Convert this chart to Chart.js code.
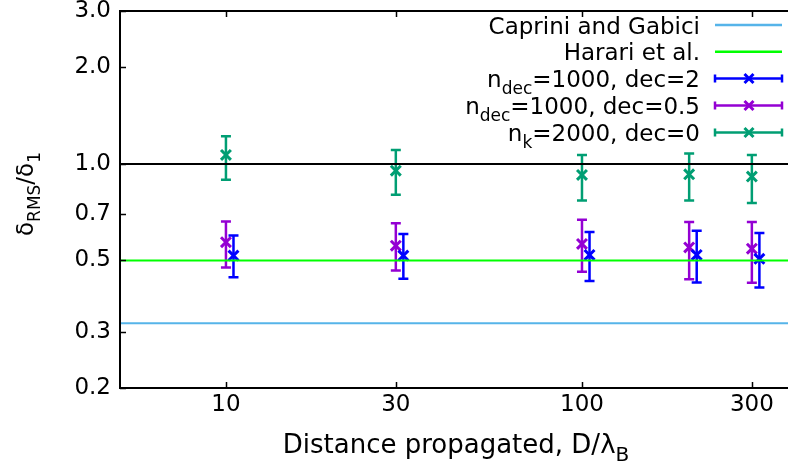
<!DOCTYPE html>
<html><head><meta charset="utf-8">
<script src="https://cdn.jsdelivr.net/npm/chart.js@4/dist/chart.umd.min.js"></script>
<style>html,body{margin:0;padding:0;background:#fff;overflow:hidden}#wrap{width:788px;height:467px;position:relative}</style>
</head><body><div id="wrap"><canvas id="c"></canvas></div>
<script>
// ---- data ----
const xPositions = [10, 30, 100, 200, 300];
const xPositionsDec2 = [10.5, 31.5, 105, 210, 315];

const dec2Y    = [0.518, 0.518, 0.520, 0.520, 0.506];
const dec2Low  = [0.443, 0.438, 0.431, 0.427, 0.412];
const dec2High = [0.598, 0.605, 0.613, 0.619, 0.609];

const dec05Y    = [0.570, 0.556, 0.563, 0.549, 0.544];
const dec05Low  = [0.475, 0.465, 0.461, 0.437, 0.426];
const dec05High = [0.661, 0.653, 0.670, 0.659, 0.659];

const dec0Y    = [1.067, 0.953, 0.924, 0.928, 0.913];
const dec0Low  = [0.892, 0.802, 0.769, 0.769, 0.756];
const dec0High = [1.219, 1.106, 1.067, 1.077, 1.067];

const capriniValue = 0.3183;
const harariValue = 0.5;
const unityValue = 1.0;

const xTicks = [10, 30, 100, 300];
const yTicks = [0.2, 0.3, 0.5, 0.7, 1.0, 2.0, 3.0];
const xRange = [5.04, 379];
const yRange = [0.2, 3.0];

const legendLabels = ['Caprini and Gabici', 'Harari et al.', 'n_{dec}=1000, dec=2', 'n_{dec}=1000, dec=0.5', 'n_{k}=2000, dec=0'];
const xTitle = 'Distance propagated, D/λ_{B}';
const yTitle = 'δ_{RMS}/δ_{1}';

const colors = ['#56b4e9', '#00ff00', '#0000ff', '#9400d3', '#009e73'];
const FONT = '"DejaVu Sans", sans-serif';
const TICK_FS = 23, LEG_FS = 23, XT_FS = 26, YT_FS = 23;

// ---- helpers ----
function parseRich(s){
  const parts=[]; const re=/_\{([^}]*)\}/g; let last=0, m;
  while((m=re.exec(s))){ if(m.index>last) parts.push({t:s.slice(last,m.index),sub:false}); parts.push({t:m[1],sub:true}); last=re.lastIndex; }
  if(last<s.length) parts.push({t:s.slice(last),sub:false});
  return parts;
}
function drawRich(ctx, s, x, y, align, size){
  const parts=parseRich(s); const sub=Math.round(size*0.75);
  let w=0;
  parts.forEach(p=>{ ctx.font=(p.sub?sub:size)+'px '+FONT; p.w=ctx.measureText(p.t).width; w+=p.w; });
  let cx = align==='right' ? x-w : (align==='center' ? x-w/2 : x);
  ctx.textAlign='left'; ctx.textBaseline='alphabetic'; ctx.fillStyle='#000';
  parts.forEach(p=>{ ctx.font=(p.sub?sub:size)+'px '+FONT; ctx.fillText(p.t, cx, p.sub ? y+size*0.3 : y); cx+=p.w; });
}
function drawX(ctx, x, y, r){
  ctx.beginPath(); ctx.moveTo(x-r,y-r); ctx.lineTo(x+r,y+r); ctx.moveTo(x-r,y+r); ctx.lineTo(x+r,y-r); ctx.stroke();
}

const errorSets = {
  3: {xs: xPositionsDec2, lo: dec2Low, hi: dec2High},
  4: {xs: xPositions, lo: dec05Low, hi: dec05High},
  5: {xs: xPositions, lo: dec0Low, hi: dec0High}
};

const errorBarPlugin = {
  id: 'errbars',
  beforeDatasetDraw(chart, args){
    const e = errorSets[args.index]; if(!e) return;
    const ctx = chart.ctx, xs = chart.scales.x, ys = chart.scales.y;
    ctx.save();
    ctx.strokeStyle = chart.data.datasets[args.index].borderColor;
    ctx.lineWidth = 2.5; ctx.lineCap='butt';
    e.xs.forEach((xv,i)=>{
      const px = xs.getPixelForValue(xv), pl = ys.getPixelForValue(e.lo[i]), ph = ys.getPixelForValue(e.hi[i]);
      ctx.beginPath();
      ctx.moveTo(px, pl); ctx.lineTo(px, ph);
      ctx.moveTo(px-5, pl); ctx.lineTo(px+5, pl);
      ctx.moveTo(px-5, ph); ctx.lineTo(px+5, ph);
      ctx.stroke();
    });
    ctx.restore();
  }
};

const framePlugin = {
  id: 'frame',
  afterDraw(chart){
    const ctx = chart.ctx, a = chart.chartArea, xs = chart.scales.x, ys = chart.scales.y;
    ctx.save();
    ctx.strokeStyle = '#000'; ctx.lineWidth = 2;
    ctx.beginPath();
    ctx.moveTo(a.right+2, a.top); ctx.lineTo(a.left, a.top); ctx.lineTo(a.left, a.bottom); ctx.lineTo(a.right+2, a.bottom);
    ctx.stroke();
    ctx.lineWidth = 1.5;
    ctx.beginPath();
    xTicks.forEach(v=>{ const px=Math.round(xs.getPixelForValue(v))+0.5;
      ctx.moveTo(px, a.bottom); ctx.lineTo(px, a.bottom-6);
      ctx.moveTo(px, a.top); ctx.lineTo(px, a.top+6); });
    yTicks.forEach(v=>{ const py=Math.round(ys.getPixelForValue(v))+0.5;
      ctx.moveTo(a.left, py); ctx.lineTo(a.left+6, py); });
    ctx.stroke();

    // legend
    const rowY = [25, 51.7, 78.5, 105.5, 132.5];
    const textRight = 700, l0 = 715, l1 = 782, lm = 749;
    legendLabels.forEach((lab, i)=>{
      const y = rowY[i];
      drawRich(ctx, lab, textRight, y + 8.5, 'right', LEG_FS);
      ctx.strokeStyle = colors[i]; ctx.lineWidth = 2.5;
      ctx.beginPath(); ctx.moveTo(l0, y); ctx.lineTo(l1, y);
      if(i >= 2){ ctx.moveTo(l0, y-4); ctx.lineTo(l0, y+4); ctx.moveTo(l1, y-4); ctx.lineTo(l1, y+4); }
      ctx.stroke();
      if(i >= 2){ ctx.lineWidth = 3; drawX(ctx, lm, y, 4.5); }
    });

    // axis titles
    drawRich(ctx, xTitle, 456, 453, 'center', XT_FS);
    ctx.translate(25, 194); ctx.rotate(-Math.PI/2);
    drawRich(ctx, yTitle, 0, 8, 'center', YT_FS);
    ctx.restore();
  }
};

const lineDS = (v, color) => ({
  type: 'line', data: [{x: xRange[0], y: v}, {x: xRange[1], y: v}],
  borderColor: color, borderWidth: 2, pointRadius: 0, fill: false
});
const ptsDS = (xs, ys, color) => ({
  type: 'scatter', data: xs.map((x,i)=>({x, y: ys[i]})),
  borderColor: color, backgroundColor: color, pointStyle: 'crossRot',
  pointRadius: 7, pointHoverRadius: 7, pointBorderWidth: 3, showLine: false
});

new Chart(document.getElementById('c'), {
  type: 'scatter',
  data: { datasets: [
    lineDS(capriniValue, colors[0]),
    lineDS(harariValue, colors[1]),
    lineDS(unityValue, '#000'),
    ptsDS(xPositionsDec2, dec2Y, colors[2]),
    ptsDS(xPositions, dec05Y, colors[3]),
    ptsDS(xPositions, dec0Y, colors[4])
  ]},
  options: {
    responsive: true, maintainAspectRatio: false, animation: false, devicePixelRatio: 1,
    layout: { autoPadding: false, padding: { top: 11, right: 0, left: 0, bottom: 0 } },
    plugins: { legend: { display: false }, tooltip: { enabled: false } },
    scales: {
      x: {
        type: 'logarithmic', min: xRange[0], max: xRange[1],
        afterBuildTicks: s => { s.ticks = xTicks.map(v=>({value: v})); },
        afterFit: s => { s.height = 79; s.paddingLeft = 0; s.paddingRight = 0; },
        grid: { display: false, drawTicks: false }, border: { display: false },
        ticks: { color: '#000', font: { family: 'DejaVu Sans', size: TICK_FS }, padding: 3, maxRotation: 0, autoSkip: false, callback: v => String(v) }
      },
      y: {
        type: 'logarithmic', min: yRange[0], max: yRange[1],
        afterBuildTicks: s => { s.ticks = yTicks.map(v=>({value: v})); },
        afterFit: s => { s.width = 120; s.paddingTop = 0; s.paddingBottom = 0; },
        grid: { display: false, drawTicks: false }, border: { display: false },
        ticks: { color: '#000', font: { family: 'DejaVu Sans', size: TICK_FS }, padding: 9, autoSkip: false, callback: v => Number(v).toFixed(1) }
      }
    }
  },
  plugins: [errorBarPlugin, framePlugin]
});
</script>
</body></html>
